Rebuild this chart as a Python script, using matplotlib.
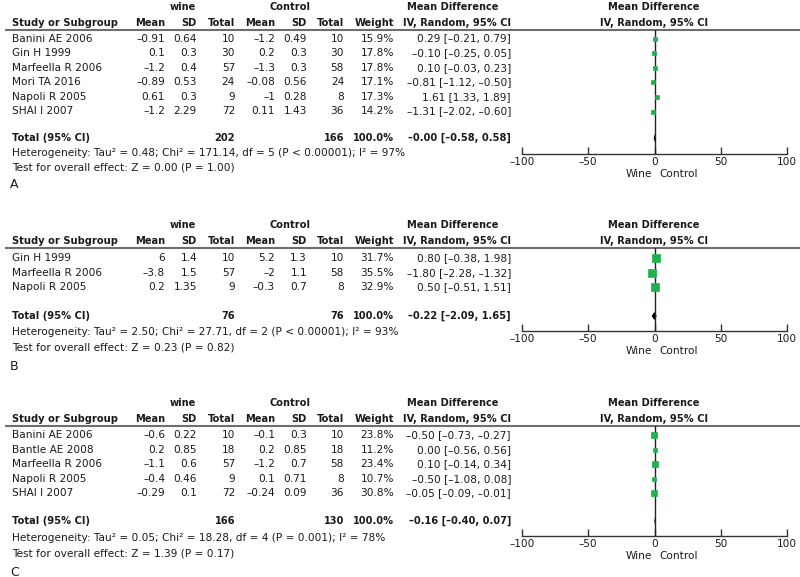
import matplotlib
matplotlib.use("Agg")
import matplotlib.pyplot as plt

# ---- Panel A: data ----
a_study = ["Banini AE 2006", "Gin H 1999", "Marfeella R 2006", "Mori TA 2016", "Napoli R 2005", "SHAI I 2007"]
a_wine_mean = [-0.91, 0.1, -1.2, -0.89, 0.61, -1.2]
a_wine_sd = [0.64, 0.3, 0.4, 0.53, 0.3, 2.29]
a_wine_n = [10, 30, 57, 24, 9, 72]
a_ctrl_mean = [-1.2, 0.2, -1.3, -0.08, -1, 0.11]
a_ctrl_sd = [0.49, 0.3, 0.3, 0.56, 0.28, 1.43]
a_ctrl_n = [10, 30, 58, 24, 8, 36]
a_weight = [15.9, 17.8, 17.8, 17.1, 17.3, 14.2]
a_md = [0.29, -0.10, 0.10, -0.81, 1.61, -1.31]
a_lo = [-0.21, -0.25, -0.03, -1.12, 1.33, -2.02]
a_hi = [0.79, 0.05, 0.23, -0.50, 1.89, -0.60]
a_total = [-0.0, -0.58, 0.58]
a_total_n = [202, 166]
a_het = "Heterogeneity: Tau² = 0.48; Chi² = 171.14, df = 5 (P < 0.00001); I² = 97%"
a_test = "Test for overall effect: Z = 0.00 (P = 1.00)"

# ---- Panel B: data ----
b_study = ["Gin H 1999", "Marfeella R 2006", "Napoli R 2005"]
b_wine_mean = [6, -3.8, 0.2]
b_wine_sd = [1.4, 1.5, 1.35]
b_wine_n = [10, 57, 9]
b_ctrl_mean = [5.2, -2, -0.3]
b_ctrl_sd = [1.3, 1.1, 0.7]
b_ctrl_n = [10, 58, 8]
b_weight = [31.7, 35.5, 32.9]
b_md = [0.80, -1.80, 0.50]
b_lo = [-0.38, -2.28, -0.51]
b_hi = [1.98, -1.32, 1.51]
b_total = [-0.22, -2.09, 1.65]
b_total_n = [76, 76]
b_het = "Heterogeneity: Tau² = 2.50; Chi² = 27.71, df = 2 (P < 0.00001); I² = 93%"
b_test = "Test for overall effect: Z = 0.23 (P = 0.82)"

# ---- Panel C: data ----
c_study = ["Banini AE 2006", "Bantle AE 2008", "Marfeella R 2006", "Napoli R 2005", "SHAI I 2007"]
c_wine_mean = [-0.6, 0.2, -1.1, -0.4, -0.29]
c_wine_sd = [0.22, 0.85, 0.6, 0.46, 0.1]
c_wine_n = [10, 18, 57, 9, 72]
c_ctrl_mean = [-0.1, 0.2, -1.2, 0.1, -0.24]
c_ctrl_sd = [0.3, 0.85, 0.7, 0.71, 0.09]
c_ctrl_n = [10, 18, 58, 8, 36]
c_weight = [23.8, 11.2, 23.4, 10.7, 30.8]
c_md = [-0.50, 0.00, 0.10, -0.50, -0.05]
c_lo = [-0.73, -0.56, -0.14, -1.08, -0.09]
c_hi = [-0.27, 0.56, 0.34, 0.08, -0.01]
c_total = [-0.16, -0.40, 0.07]
c_total_n = [166, 130]
c_het = "Heterogeneity: Tau² = 0.05; Chi² = 18.28, df = 4 (P = 0.001); I² = 78%"
c_test = "Test for overall effect: Z = 1.39 (P = 0.17)"

x_ticks = [-100, -50, 0, 50, 100]

W, H = 800, 577
TXT = "#1a1a1a"
GREEN = "#1db24b"
FS = 7.6    # regular text
FSB = 7.1   # bold text

fig = plt.figure(figsize=(8, 5.77), dpi=100)
ov = fig.add_axes([0, 0, 1, 1])
ov.set_xlim(0, W)
ov.set_ylim(H, 0)
ov.axis("off")


def num(v):
    return f"{v:g}".replace("-", "–")


def ci(m, lo, hi):
    return f"{m:.2f} [{lo:.2f}, {hi:.2f}]".replace("-", "–")


def panel(letter, lay, study, wm, wsd, wn, cm, csd, cn, wt, md, lo, hi, tot, tot_n, het, test):
    hy, r0, ty, hety, testy, lety, axy = lay
    step = 14.6
    line_y = hy + 7
    kw = dict(fontsize=FS, color=TXT, va="center")
    bkw = dict(kw, fontsize=FSB, fontweight="bold")

    # group headers
    ov.text(183, hy - 16, "wine", ha="center", **bkw)
    ov.text(290, hy - 16, "Control", ha="center", **bkw)
    ov.text(453, hy - 16, "Mean Difference", ha="center", **bkw)
    ov.text(654, hy - 16, "Mean Difference", ha="center", **bkw)
    ov.text(12, hy, "Study or Subgroup", ha="left", **bkw)
    for x, s in [(165, "Mean"), (197, "SD"), (235, "Total"), (275, "Mean"),
                 (307, "SD"), (344, "Total"), (394, "Weight"), (511, "IV, Random, 95% CI")]:
        ov.text(x, hy, s, ha="right", **bkw)
    ov.text(654, hy, "IV, Random, 95% CI", ha="center", **bkw)
    ov.plot([5, W], [line_y, line_y], color="#6e6e6e", lw=1.5, solid_capstyle="butt")

    # study rows
    rows_y = [r0 + i * step for i in range(len(study))]
    for i, y in enumerate(rows_y):
        ov.text(12, y, study[i], ha="left", **kw)
        cells = [(165, num(wm[i])), (197, num(wsd[i])), (235, str(wn[i])),
                 (275, num(cm[i])), (307, num(csd[i])), (344, str(cn[i])),
                 (394, f"{wt[i]:.1f}%"), (511, ci(md[i], lo[i], hi[i]))]
        for x, s in cells:
            ov.text(x, y, s, ha="right", **kw)

    # total row
    ov.text(12, ty, "Total (95% CI)", ha="left", **bkw)
    ov.text(235, ty, str(tot_n[0]), ha="right", **bkw)
    ov.text(344, ty, str(tot_n[1]), ha="right", **bkw)
    ov.text(394, ty, "100.0%", ha="right", **bkw)
    ov.text(511, ty, ci(*tot), ha="right", **bkw)
    ov.text(12, hety, het, ha="left", **kw)
    ov.text(12, testy, test, ha="left", **kw)
    ov.text(10, lety, letter, ha="left", va="center", fontsize=9, color=TXT)

    # forest plot
    ax = fig.add_axes([522 / W, 1 - axy / H, 265 / W, (axy - line_y) / H])
    ax.set_xlim(-100, 100)
    ax.set_ylim(axy, line_y)
    ax.patch.set_visible(False)
    for s in ["top", "left", "right"]:
        ax.spines[s].set_visible(False)
    ax.spines["bottom"].set_color("#333333")
    ax.spines["bottom"].set_linewidth(1.0)
    ax.set_yticks([])
    ax.set_xticks(x_ticks)
    ax.set_xticklabels([num(t) for t in x_ticks])
    ax.tick_params(axis="x", direction="in", length=5, width=1, color="#333333",
                   labelsize=FS, labelcolor=TXT, pad=2)
    ax.axvline(0, color="#222222", lw=1)
    for i, y in enumerate(rows_y):
        ax.plot([lo[i], hi[i]], [y, y], color="#222222", lw=0.8)
        side = (2.0 + wt[i] * 0.16) * 0.72
        ax.plot(md[i], y, marker="s", ms=side, color=GREEN, mec=GREEN, mew=0.5)
    m, l, h = tot
    ax.fill([l, m, h, m], [ty, ty - 4, ty, ty + 4], color="black", lw=0)

    ov.text(652, axy + 20, "Wine", ha="right", **kw)
    ov.text(659, axy + 20, "Control", ha="left", **kw)


panel("A", (23, 38.5, 138, 153, 168, 185, 154),
      a_study, a_wine_mean, a_wine_sd, a_wine_n, a_ctrl_mean, a_ctrl_sd, a_ctrl_n,
      a_weight, a_md, a_lo, a_hi, a_total, a_total_n, a_het, a_test)
panel("B", (241, 258, 316, 332, 347, 367, 331),
      b_study, b_wine_mean, b_wine_sd, b_wine_n, b_ctrl_mean, b_ctrl_sd, b_ctrl_n,
      b_weight, b_md, b_lo, b_hi, b_total, b_total_n, b_het, b_test)
panel("C", (419, 435, 521, 538, 554, 572, 536),
      c_study, c_wine_mean, c_wine_sd, c_wine_n, c_ctrl_mean, c_ctrl_sd, c_ctrl_n,
      c_weight, c_md, c_lo, c_hi, c_total, c_total_n, c_het, c_test)

fig.savefig("out.png", dpi=100)
